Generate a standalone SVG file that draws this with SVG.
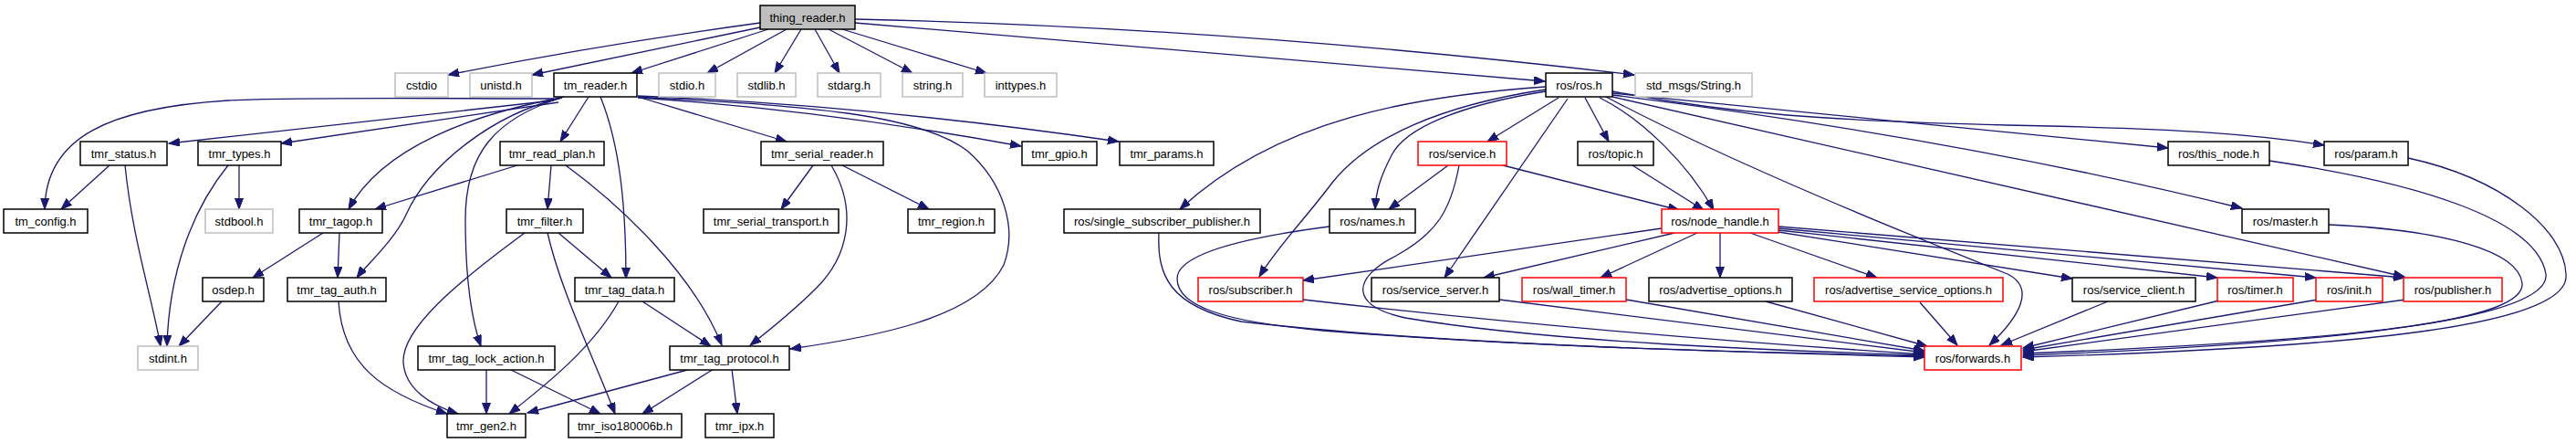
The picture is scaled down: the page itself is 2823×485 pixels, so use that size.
<svg xmlns="http://www.w3.org/2000/svg" width="2823" height="485" viewBox="0 0 2823 485">
<style>
rect{stroke-width:1.5}
.n rect{fill:#fff;stroke:#000}
.g rect{fill:#fff;stroke:#bfbfbf}
.r rect{fill:#fff;stroke:#ff0000}
.root rect{fill:#bfbfbf;stroke:#000}
text{font-family:"Liberation Sans",Arial,Helvetica,sans-serif;font-size:13px;text-anchor:middle;fill:#000}
#edges path{fill:none;stroke:#191970;stroke-width:1.3;marker-end:url(#a)}
</style>
<defs>
<marker id="a" markerWidth="13" markerHeight="10" refX="12" refY="4.5" orient="auto" markerUnits="userSpaceOnUse"><path d="M0,0 L12,4.5 L0,9 z" fill="#191970" stroke="#191970" stroke-width="1"/></marker>
</defs>
<rect width="2823" height="485" fill="#fff"/>
<g id="edges">
<path d="M833,25 Q650,50 491,82"/>
<path d="M833,30 L583,82"/>
<path d="M842,32 L692,80"/>
<path d="M862,32 L775,80"/>
<path d="M878,32 L849,80"/>
<path d="M893,32 L920,80"/>
<path d="M908,32 L1000,80"/>
<path d="M923,32 L1081,80"/>
<path d="M937,25 L1693,89"/>
<path d="M937,21 Q1350,30 1791,82"/>
<path d="M607,108 C470,108 320,106 250,110 C120,118 50,150 49,229"/>
<path d="M607,110 L185,157"/>
<path d="M612,112 L308,157"/>
<path d="M614,107 C520,125 420,160 382,229"/>
<path d="M616,107 C540,125 470,180 445,235 C433,262 400,292 391,304"/>
<path d="M618,106 C540,130 510,170 510,240 C510,300 515,345 527,379"/>
<path d="M645,106 L614,155"/>
<path d="M658,106 C680,160 686,230 686,305"/>
<path d="M699,106 L862,155"/>
<path d="M699,107 Q900,120 1119,160"/>
<path d="M699,105 Q950,115 1226,155"/>
<path d="M699,106 C850,115 1000,120 1060,165 C1100,200 1115,250 1100,290 C1070,350 950,370 866,382"/>
<path d="M120,181 L67,229"/>
<path d="M137,181 C145,260 165,320 176,379"/>
<path d="M262,181 L262,229"/>
<path d="M250,181 C210,230 185,300 183,379"/>
<path d="M567,181 L411,229"/>
<path d="M604,181 L600,229"/>
<path d="M620,181 C680,225 760,300 791,378"/>
<path d="M354,255 L277,304"/>
<path d="M372,255 L370,304"/>
<path d="M243,330 L196,379"/>
<path d="M371,330 C375,400 420,430 490,453"/>
<path d="M575,255 C500,310 440,360 442,397 C444,425 470,443 502,453"/>
<path d="M600,255 C615,320 650,390 674,453"/>
<path d="M612,255 L670,304"/>
<path d="M678,330 C650,380 600,420 558,453"/>
<path d="M704,330 L779,379"/>
<path d="M533,404 L533,453"/>
<path d="M558,404 L658,453"/>
<path d="M757,404 L578,452"/>
<path d="M782,404 L704,453"/>
<path d="M802,404 L808,453"/>
<path d="M891,181 L856,229"/>
<path d="M923,181 L1018,229"/>
<path d="M911,181 C940,230 930,280 895,315 C870,340 845,360 822,378"/>
<path d="M1694,95 C1550,105 1400,130 1293,229"/>
<path d="M1694,98 C1580,115 1500,150 1460,200 C1430,240 1400,270 1380,303"/>
<path d="M1694,100 C1600,115 1540,140 1525,170 C1512,195 1508,210 1507,229"/>
<path d="M1708,107 L1630,155"/>
<path d="M1718,108 L1583,304"/>
<path d="M1737,107 L1763,155"/>
<path d="M1753,107 C1800,130 1850,180 1878,230"/>
<path d="M1760,106 C1900,180 2100,260 2200,300 C2230,315 2215,345 2180,378"/>
<path d="M1767,102 C1950,120 2200,145 2376,162"/>
<path d="M1767,100 C1900,125 2000,132 2200,137 C2400,141 2480,148 2547,159"/>
<path d="M1767,104 Q2150,152 2457,228"/>
<path d="M1767,106 L2635,303"/>
<path d="M1587,181 L1522,229"/>
<path d="M1599,181 C1590,230 1575,255 1530,280 C1480,305 1480,335 1540,348 C1700,375 1950,384 2109,389"/>
<path d="M1647,181 L1840,230"/>
<path d="M1789,181 L1867,230"/>
<path d="M1457,248 C1380,258 1290,275 1290,305 C1290,335 1340,352 1450,362 C1700,382 1950,386 2109,390"/>
<path d="M1270,255 C1268,300 1280,335 1360,352 C1600,380 1950,386 2109,391"/>
<path d="M1428,328 Q1750,365 2109,388"/>
<path d="M1643,328 L2109,386"/>
<path d="M1782,328 L2109,384"/>
<path d="M1935,330 L2112,379"/>
<path d="M2104,331 L2145,378"/>
<path d="M1821,250 L1428,307"/>
<path d="M1835,255 L1626,304"/>
<path d="M1860,255 L1754,304"/>
<path d="M1885,255 L1885,304"/>
<path d="M1918,255 L2057,304"/>
<path d="M1949,254 L2271,305"/>
<path d="M1949,252 L2430,304"/>
<path d="M1949,250 L2538,304"/>
<path d="M1949,248 L2635,304"/>
<path d="M2552,246 C2680,252 2760,275 2764,310 C2768,350 2600,372 2217,387"/>
<path d="M2487,176 C2650,200 2780,240 2790,300 C2795,345 2600,375 2217,389"/>
<path d="M2639,173 C2740,195 2810,250 2812,300 C2818,355 2600,380 2217,391"/>
<path d="M2432,329 L2217,381"/>
<path d="M2540,328 L2217,383"/>
<path d="M2636,328 L2217,385"/>
<path d="M2310,330 L2193,378"/>
</g>
<g id="thing_reader_h" class="root"><rect x="833" y="6" width="104" height="26"/><text x="885" y="23.5">thing_reader.h</text></g>
<g id="cstdio" class="g"><rect x="433" y="80" width="58" height="26"/><text x="462" y="97.5">cstdio</text></g>
<g id="unistd_h" class="g"><rect x="515" y="80" width="68" height="26"/><text x="549" y="97.5">unistd.h</text></g>
<g id="tm_reader_h" class="n"><rect x="607" y="80" width="91" height="26"/><text x="652.5" y="97.5">tm_reader.h</text></g>
<g id="stdio_h" class="g"><rect x="722" y="80" width="62" height="26"/><text x="753" y="97.5">stdio.h</text></g>
<g id="stdlib_h" class="g"><rect x="808" y="80" width="64" height="26"/><text x="840" y="97.5">stdlib.h</text></g>
<g id="stdarg_h" class="g"><rect x="896" y="80" width="69" height="26"/><text x="930.5" y="97.5">stdarg.h</text></g>
<g id="string_h" class="g"><rect x="989" y="80" width="66" height="26"/><text x="1022" y="97.5">string.h</text></g>
<g id="inttypes_h" class="g"><rect x="1079" y="80" width="79" height="26"/><text x="1118.5" y="97.5">inttypes.h</text></g>
<g id="ros_ros_h" class="n"><rect x="1694" y="80" width="73" height="26"/><text x="1730.5" y="97.5">ros/ros.h</text></g>
<g id="std_msgs_String_h" class="g"><rect x="1792" y="80" width="128" height="26"/><text x="1856" y="97.5">std_msgs/String.h</text></g>
<g id="tmr_status_h" class="n"><rect x="88" y="155" width="95" height="26"/><text x="135.5" y="172.5">tmr_status.h</text></g>
<g id="tmr_types_h" class="n"><rect x="217" y="155" width="91" height="26"/><text x="262.5" y="172.5">tmr_types.h</text></g>
<g id="tmr_read_plan_h" class="n"><rect x="548" y="155" width="114" height="26"/><text x="605" y="172.5">tmr_read_plan.h</text></g>
<g id="tmr_serial_reader_h" class="n"><rect x="834" y="155" width="134" height="26"/><text x="901" y="172.5">tmr_serial_reader.h</text></g>
<g id="tmr_gpio_h" class="n"><rect x="1120" y="155" width="82" height="26"/><text x="1161" y="172.5">tmr_gpio.h</text></g>
<g id="tmr_params_h" class="n"><rect x="1227" y="155" width="103" height="26"/><text x="1278.5" y="172.5">tmr_params.h</text></g>
<g id="ros_service_h" class="r"><rect x="1554" y="155" width="97" height="26"/><text x="1602.5" y="172.5">ros/service.h</text></g>
<g id="ros_topic_h" class="n"><rect x="1729" y="155" width="83" height="26"/><text x="1770.5" y="172.5">ros/topic.h</text></g>
<g id="ros_this_node_h" class="n"><rect x="2376" y="155" width="111" height="26"/><text x="2431.5" y="172.5">ros/this_node.h</text></g>
<g id="ros_param_h" class="n"><rect x="2547" y="155" width="92" height="26"/><text x="2593" y="172.5">ros/param.h</text></g>
<g id="tm_config_h" class="n"><rect x="4" y="229" width="92" height="26"/><text x="50" y="246.5">tm_config.h</text></g>
<g id="stdbool_h" class="g"><rect x="225" y="229" width="74" height="26"/><text x="262" y="246.5">stdbool.h</text></g>
<g id="tmr_tagop_h" class="n"><rect x="328" y="229" width="91" height="26"/><text x="373.5" y="246.5">tmr_tagop.h</text></g>
<g id="tmr_filter_h" class="n"><rect x="555" y="229" width="84" height="26"/><text x="597" y="246.5">tmr_filter.h</text></g>
<g id="tmr_serial_transport_h" class="n"><rect x="771" y="229" width="148" height="26"/><text x="845" y="246.5">tmr_serial_transport.h</text></g>
<g id="tmr_region_h" class="n"><rect x="995" y="229" width="95" height="26"/><text x="1042.5" y="246.5">tmr_region.h</text></g>
<g id="ros_single_subscriber_publisher_h" class="n"><rect x="1166" y="229" width="215" height="26"/><text x="1273.5" y="246.5">ros/single_subscriber_publisher.h</text></g>
<g id="ros_names_h" class="n"><rect x="1457" y="229" width="94" height="26"/><text x="1504" y="246.5">ros/names.h</text></g>
<g id="ros_node_handle_h" class="r"><rect x="1821" y="229" width="128" height="26"/><text x="1885" y="246.5">ros/node_handle.h</text></g>
<g id="ros_master_h" class="n"><rect x="2457" y="229" width="95" height="26"/><text x="2504.5" y="246.5">ros/master.h</text></g>
<g id="osdep_h" class="n"><rect x="222" y="304" width="67" height="26"/><text x="255.5" y="321.5">osdep.h</text></g>
<g id="tmr_tag_auth_h" class="n"><rect x="315" y="304" width="108" height="26"/><text x="369" y="321.5">tmr_tag_auth.h</text></g>
<g id="tmr_tag_data_h" class="n"><rect x="630" y="304" width="109" height="26"/><text x="684.5" y="321.5">tmr_tag_data.h</text></g>
<g id="ros_subscriber_h" class="r"><rect x="1313" y="304" width="115" height="26"/><text x="1370.5" y="321.5">ros/subscriber.h</text></g>
<g id="ros_service_server_h" class="n"><rect x="1503" y="304" width="140" height="26"/><text x="1573" y="321.5">ros/service_server.h</text></g>
<g id="ros_wall_timer_h" class="r"><rect x="1668" y="304" width="114" height="26"/><text x="1725" y="321.5">ros/wall_timer.h</text></g>
<g id="ros_advertise_options_h" class="n"><rect x="1807" y="304" width="157" height="26"/><text x="1885.5" y="321.5">ros/advertise_options.h</text></g>
<g id="ros_advertise_service_options_h" class="r"><rect x="1988" y="304" width="207" height="26"/><text x="2091.5" y="321.5">ros/advertise_service_options.h</text></g>
<g id="ros_service_client_h" class="n"><rect x="2271" y="304" width="135" height="26"/><text x="2338.5" y="321.5">ros/service_client.h</text></g>
<g id="ros_timer_h" class="r"><rect x="2430" y="304" width="83" height="26"/><text x="2471.5" y="321.5">ros/timer.h</text></g>
<g id="ros_init_h" class="r"><rect x="2538" y="304" width="73" height="26"/><text x="2574.5" y="321.5">ros/init.h</text></g>
<g id="ros_publisher_h" class="r"><rect x="2634" y="304" width="108" height="26"/><text x="2688" y="321.5">ros/publisher.h</text></g>
<g id="stdint_h" class="g"><rect x="151" y="379" width="66" height="26"/><text x="184" y="396.5">stdint.h</text></g>
<g id="tmr_tag_lock_action_h" class="n"><rect x="458" y="379" width="150" height="26"/><text x="533" y="396.5">tmr_tag_lock_action.h</text></g>
<g id="tmr_tag_protocol_h" class="n"><rect x="734" y="379" width="131" height="26"/><text x="799.5" y="396.5">tmr_tag_protocol.h</text></g>
<g id="ros_forwards_h" class="r"><rect x="2109" y="379" width="106" height="26"/><text x="2162" y="396.5">ros/forwards.h</text></g>
<g id="tmr_gen2_h" class="n"><rect x="490" y="453" width="86" height="26"/><text x="533" y="470.5">tmr_gen2.h</text></g>
<g id="tmr_iso180006b_h" class="n"><rect x="623" y="453" width="124" height="26"/><text x="685" y="470.5">tmr_iso180006b.h</text></g>
<g id="tmr_ipx_h" class="n"><rect x="773" y="453" width="75" height="26"/><text x="810.5" y="470.5">tmr_ipx.h</text></g>
</svg>
